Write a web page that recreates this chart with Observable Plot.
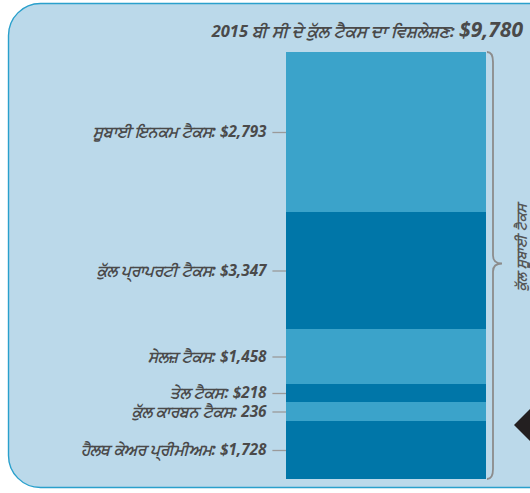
<!DOCTYPE html>
<html>
<head>
<meta charset="utf-8">
<script src="https://cdn.jsdelivr.net/npm/d3@7"></script>
<script src="https://cdn.jsdelivr.net/npm/@observablehq/plot@0.6"></script>
<style>
  html, body { margin: 0; padding: 0; background: #ffffff; }
  #chart svg { display: block; }
</style>
</head>
<body>
<div id="chart"></div>
<script>
// ---- data ----
const categories = [
  "ਸੂਬਾਈ ਇਨਕਮ ਟੈਕਸ",
  "ਕੁੱਲ ਪ੍ਰਾਪਰਟੀ ਟੈਕਸ",
  "ਸੇਲਜ਼ ਟੈਕਸ",
  "ਤੇਲ ਟੈਕਸ",
  "ਕੁੱਲ ਕਾਰਬਨ ਟੈਕਸ",
  "ਹੈਲਥ ਕੇਅਰ ਪ੍ਰੀਮੀਅਮ"
];
const amountLabels = ["$2,793", "$3,347", "$1,458", "$218", "236", "$1,728"];
// drawn segment sizes as shown in the graphic (not proportional to the amounts)
const drawnUnits = [160, 117, 55, 18, 19, 58];
const shades = ["light", "dark", "light", "dark", "light", "dark"];
const titleText = "2015 ਬੀ ਸੀ ਦੇ ਕੁੱਲ ਟੈਕਸ ਦਾ ਵਿਸ਼ਲੇਸ਼ਣ: ";
const titleTotal = "$9,780";
const braceLabel = "ਕੁੱਲ ਸੂਬਾਈ ਟੈਕਸ";

// ---- table ----
const ends = d3.cumsum(drawnUnits);
const total = ends[ends.length - 1];
const rows = categories.map((c, i) => ({
  category: c,
  label: `${c}: ${amountLabels[i]}`,
  y1: ends[i] - drawnUnits[i],
  y2: ends[i],
  mid: ends[i] - drawnUnits[i] / 2,
  shade: shades[i]
}));

const font = "'Noto Sans', 'Open Sans', sans-serif";
const textColor = "#4a4a4a";

const plot = Plot.plot({
  width: 530,
  height: 493,
  margin: 0,
  style: { background: "transparent", fontFamily: font },
  x: { domain: [0, 1], range: [286, 486], axis: null },
  y: { domain: [0, total], range: [52, 479], axis: null },
  color: { domain: ["light", "dark"], range: ["#3ba3ca", "#0076a8"] },
  marks: [
    Plot.rectY(rows, { x1: 0, x2: 1, y1: "y1", y2: "y2", fill: "shade" }),
    Plot.ruleY(rows, { y: "mid", x1: -0.068, x2: 0, stroke: "#9a9a9a", strokeWidth: 1.3 }),
    Plot.text(rows, {
      y: "mid", x: -0.1, text: "label", textAnchor: "end",
      fill: textColor, fontSize: 15.3, fontWeight: "bold", fontStyle: "italic"
    })
  ]
});

const svg = d3.select(plot);
const ys = plot.scale("y");
const xs = plot.scale("x");

// background rounded panel
svg.insert("rect", ":first-child")
  .attr("x", 8.5).attr("y", 3.5).attr("width", 560).attr("height", 484)
  .attr("rx", 32).attr("ry", 32)
  .attr("fill", "#bbd9ea").attr("stroke", "#2aa0cc").attr("stroke-width", 1.4);

// brace on the right
const yTop = ys.apply(0), yBot = ys.apply(total), yMid = (yTop + yBot) / 2;
const bx = xs.apply(1) + 7;
const brace = d3.path();
brace.moveTo(bx - 6, yTop);
brace.quadraticCurveTo(bx, yTop, bx, yTop + 10);
brace.lineTo(bx, yMid - 10);
brace.quadraticCurveTo(bx, yMid - 2, bx + 9, yMid - 2);
brace.quadraticCurveTo(bx, yMid - 2, bx, yMid + 6);
brace.lineTo(bx, yBot - 10);
brace.quadraticCurveTo(bx, yBot, bx - 6, yBot);
svg.append("path").attr("d", brace.toString())
  .attr("fill", "none").attr("stroke", "#8c8c8c").attr("stroke-width", 1.8);

// vertical label of the brace
svg.append("text")
  .attr("transform", `translate(${bx + 29},${yMid - 18}) rotate(-90)`)
  .attr("text-anchor", "middle").attr("dominant-baseline", "middle")
  .attr("font-family", font).attr("font-size", 13.5).attr("font-style", "italic")
  .attr("font-weight", 600)
  .attr("fill", "#555555")
  .text(braceLabel);

// black diamond at the right edge
svg.append("path")
  .attr("d", "M514,425 L547,392 L580,425 L547,458 Z")
  .attr("fill", "#231f20");

// title
const t = svg.append("text")
  .attr("x", 523).attr("y", 37).attr("text-anchor", "end")
  .attr("font-family", font).attr("font-weight", "bold").attr("font-style", "italic")
  .attr("fill", textColor);
t.append("tspan").attr("font-size", 16.5).text(titleText);
t.append("tspan").attr("font-size", 21).text(titleTotal);

document.getElementById("chart").appendChild(plot);
</script>
</body>
</html>
